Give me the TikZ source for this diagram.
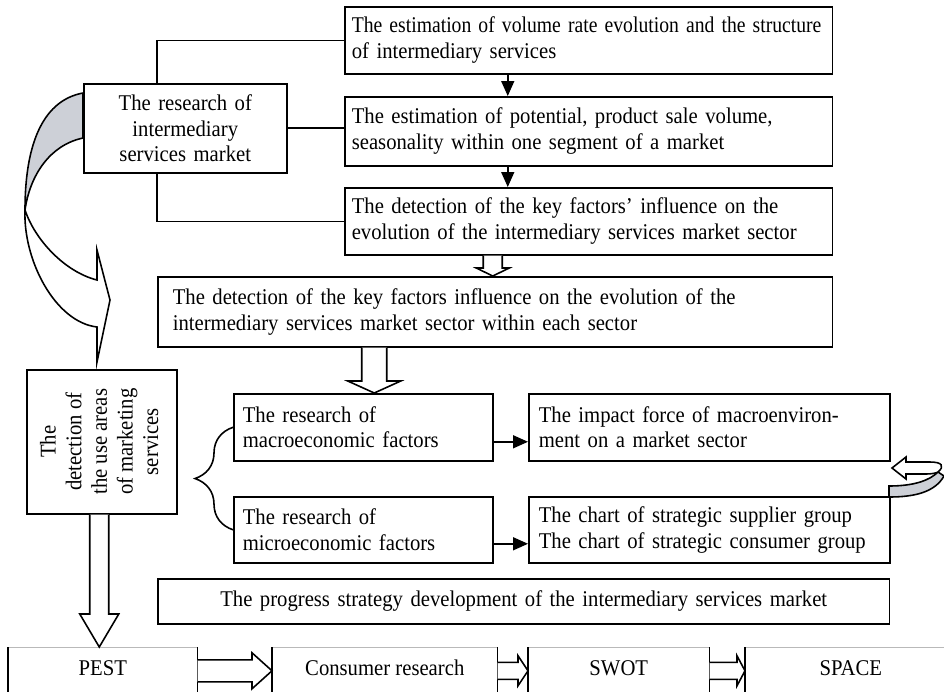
\documentclass[tikz,border=0pt]{standalone}
\usepackage{fontspec}
\setmainfont{Liberation Serif}[FakeStretch=0.92]
\usetikzlibrary{arrows.meta,calc,decorations.pathreplacing}

\definecolor{foldgray}{RGB}{205,208,215}
\newcommand{\boxfont}{\fontsize{12.8}{14.6}\selectfont}

% hollow block arrows: start, end, shaft half width, head half width, head length (cm)
\newcommand{\hollowdown}[5]{%
  \draw[fill=white] let \p1=(#1), \p2=(#2) in
    (\x1-#3cm,\y1) -- (\x1-#3cm,\y2+#5cm) -- (\x1-#4cm,\y2+#5cm) -- (\x1,\y2)
    -- (\x1+#4cm,\y2+#5cm) -- (\x1+#3cm,\y2+#5cm) -- (\x1+#3cm,\y1);}
\newcommand{\hollowright}[5]{%
  \draw[fill=white] let \p1=(#1), \p2=(#2) in
    (\x1,\y1+#3cm) -- (\x2-#5cm,\y1+#3cm) -- (\x2-#5cm,\y1+#4cm) -- (\x2,\y1)
    -- (\x2-#5cm,\y1-#4cm) -- (\x2-#5cm,\y1-#3cm) -- (\x1,\y1-#3cm);}

\begin{document}
\begin{tikzpicture}[x=0.02cm, y=-0.02cm, line width=0.9pt,
  >={Triangle[length=0.3cm,width=0.26cm]},
  box/.style={draw, anchor=north west, inner ysep=0pt, font=\boxfont},
  lbox/.style={box, align=left, inner xsep=0.16cm},
  cbox/.style={box, align=center, inner xsep=0.16cm},
  rowbox/.style={anchor=north west, inner sep=0pt, minimum height=0.8cm, font=\boxfont}]

  \useasboundingbox (0,0) rectangle (944,691);
  \clip (0,0) rectangle (944,691);

  % upper block
  \node[lbox, inner xsep=0.14cm, text width=9.48cm, minimum height=1.34cm] (est1) at (344,6)
    {\scalebox{0.95}[1]{The estimation of volume rate evolution and the structure}\\ of intermediary services};
  \node[lbox, inner xsep=0.14cm, text width=9.48cm, minimum height=1.38cm] (est2) at (344,96)
    {The estimation of potential, product sale volume,\\ seasonality within one segment of a market};
  \node[lbox, inner xsep=0.14cm, text width=9.48cm, minimum height=1.34cm] (keyf) at (344,187)
    {The detection of the key factors’ influence on the\\ evolution of the intermediary services market sector};
  \node[cbox, text width=3.74cm, minimum height=1.78cm] (res) at (83,83)
    {The research of\\ intermediary\\ services market};
  \node[lbox, inner xsep=0.3cm, text width=12.9cm, minimum height=1.4cm] (each) at (157,276)
    {The detection of the key factors influence on the evolution of the\\ intermediary services market sector within each sector};

  % middle block
  \node[lbox, inner xsep=0.18cm, text width=4.82cm, minimum height=1.34cm] (macro) at (233,393)
    {The research of\\ macroeconomic factors};
  \node[lbox, inner xsep=0.18cm, text width=4.82cm, minimum height=1.32cm] (micro) at (233,496)
    {The research of\\ microeconomic factors};
  \node[lbox, inner xsep=0.2cm, text width=6.82cm, minimum height=1.34cm] (impact) at (528,393)
    {The impact force of macroenviron-\\ ment on a market sector};
  \node[lbox, inner xsep=0.2cm, text width=6.82cm, minimum height=1.32cm] (chart) at (528,496)
    {The chart of strategic supplier group\\ The chart of strategic consumer group};
  \node[box, inner sep=0pt, minimum width=3cm, minimum height=2.88cm] (detect) at (26,369)
    {\rotatebox{90}{\begin{tabular}{@{}c@{}}The\\ detection of\\ the use areas\\ of marketing\\ services\end{tabular}}};
  \node[cbox, text width=14.32cm, minimum height=0.9cm] (progress) at (157,578)
    {The progress strategy development of the intermediary services market};

  % bottom row
  \node[rowbox, minimum width=3.76cm] (pest) at (8,647) {PEST};
  \node[rowbox, minimum width=4.48cm] (cons) at (272,647) {Consumer research};
  \node[rowbox, minimum width=3.6cm] (swot) at (528,647) {SWOT};
  \node[rowbox, minimum width=4.2cm] (space) at (745,647) {SPACE};
  \foreach \n in {pest,cons,swot,space} {
    \draw[gray!55, line width=0.5pt] (\n.north west) -- (\n.north east);
    \draw (\n.north west) -- ++(0,60) (\n.north east) -- ++(0,60);
  }

  % connectors
  \draw (res.north -| each.west) |- (est1.west);
  \draw (res.east) -- (res.east -| est2.west);
  \draw (res.south -| each.west) |- (keyf.west);
  \draw[->] ([xshift=-1.62cm]est1.south) -- ([xshift=-1.62cm]est2.north);
  \draw[->] ([xshift=-1.62cm]est2.south) -- ([xshift=-1.62cm]keyf.north);
  \draw[->] ([yshift=-0.29cm]macro.east) -- ([yshift=-0.29cm]macro.east -| impact.west);
  \draw[->] ([yshift=-0.28cm]micro.east) -- ([yshift=-0.28cm]micro.east -| chart.west);
  \draw[decorate, decoration={brace, amplitude=0.76cm}] (micro.west) -- (macro.west);

  \hollowdown{[xshift=-1.92cm]keyf.south}{[xshift=-1.92cm]keyf.south |- each.north}{0.19}{0.33}{0.16}
  \hollowdown{[xshift=0.22cm]macro.north |- each.south}{[xshift=0.22cm]macro.north}{0.25}{0.53}{0.24}
  \hollowdown{[xshift=-0.05cm]detect.south}{[xshift=-0.05cm]detect.south |- pest.north}{0.19}{0.39}{0.66}
  \hollowright{[yshift=-0.06cm]pest.east}{[yshift=-0.06cm]pest.east -| cons.west}{0.22}{0.36}{0.4}
  \hollowright{[yshift=-0.06cm]cons.east}{[yshift=-0.06cm]cons.east -| swot.west}{0.17}{0.3}{0.2}
  \hollowright{[yshift=-0.06cm]swot.east}{[yshift=-0.06cm]swot.east -| space.west}{0.17}{0.3}{0.16}

  % curved arrow on the left
  \filldraw[fill=foldgray] (83,93) .. controls (45,100) and (25,140) .. (25,210)
    .. controls (30,175) and (50,145) .. (83,138) -- cycle;
  \filldraw[fill=white] (25,210) .. controls (23,260) and (55,322) .. (97,327)
    -- (97,362) -- (110,300) -- (97,250) -- (97,280)
    .. controls (65,272) and (35,240) .. (25,210) -- cycle;

  % curved arrow on the right
  \filldraw[fill=foldgray] (889,486) .. controls (915,486) and (930,480) .. (938,472)
    -- (944,476) .. controls (935,492) and (915,497) .. (889,497) -- cycle;
  \filldraw[fill=white] (938,472) .. controls (945,466) and (942,462) .. (930,462)
    -- (906,462) -- (906,457) -- (892,468) -- (906,479) -- (906,474) -- (926,474)
    .. controls (932,474) and (936,473) .. (938,472) -- cycle;

\end{tikzpicture}
\end{document}
